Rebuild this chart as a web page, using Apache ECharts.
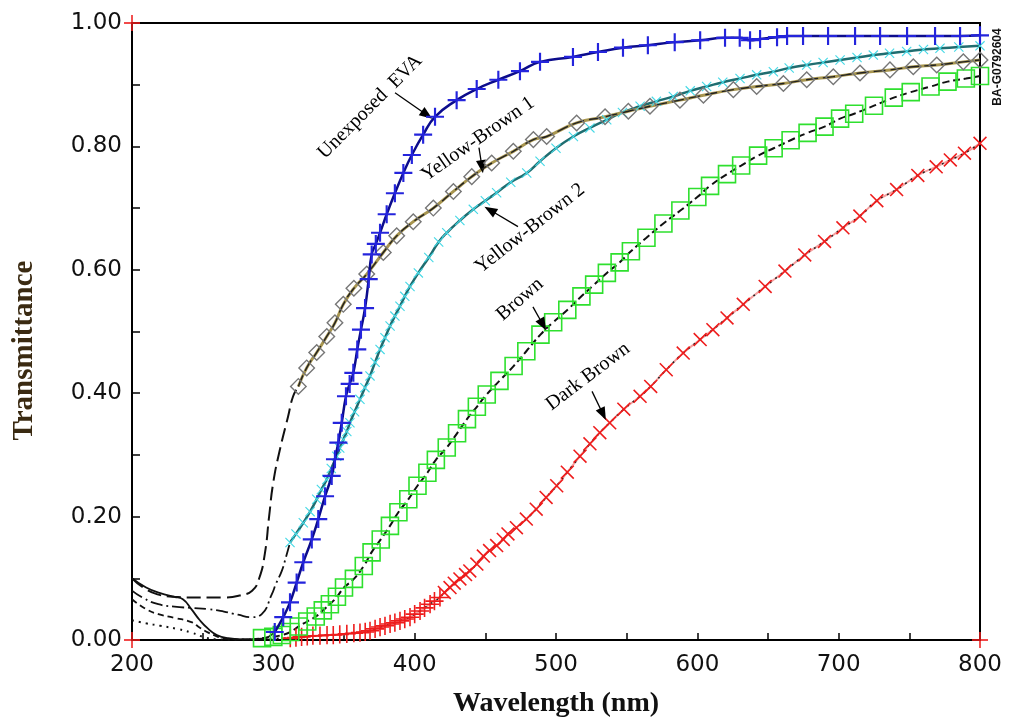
<!DOCTYPE html>
<html>
<head>
<meta charset="utf-8">
<script src="https://cdn.jsdelivr.net/npm/echarts@6.0.0/dist/echarts.min.js"></script>
<style>
  html, body { margin: 0; padding: 0; background: #fff; }
  #chart { width: 1009px; height: 723px; }
</style>
</head>
<body>
<div id="chart"></div>
<script>
// [wavelength nm, transmittance]

// Unexposed EVA
const evaTail = [[200,0.10],[210,0.085],[220,0.076],[230,0.07],[236,0.066],[242,0.05],[248,0.032],[254,0.018],[260,0.008],[268,0.003],[280,0.001],[292,0.002],[301,0.013]]
const evaPoints = [[301,0.013],[307,0.037],[311.8,0.061],[316.5,0.093],[321.2,0.126],[327.2,0.163],[331.8,0.196],[336.6,0.233],[341.3,0.266],[343.6,0.293],[346,0.32],[348.4,0.352],[351.4,0.395],[354,0.415],[356.6,0.433],[359.4,0.471],[362,0.503],[364.9,0.538],[367.5,0.585],[369.6,0.625],[372.5,0.642],[375.5,0.66],[380.2,0.69],[386,0.724],[392,0.757],[398,0.786],[406,0.819],[414.4,0.848],[429.7,0.875],[443.9,0.893],[459.2,0.908],[474.5,0.922],[488.7,0.937],[512,0.945],[529.7,0.953],[547.4,0.96],[565,0.964],[584,0.969],[602,0.972],[619.6,0.976],[630,0.976],[637.3,0.972],[644.4,0.974],[656.4,0.977],[663.5,0.979],[674.8,0.979],[692.5,0.979],[711.6,0.979],[729.3,0.979],[748.4,0.979],[768.2,0.979],[785.9,0.979],[800,0.98]]

// Yellow-Brown 1
const yb1Tail = [[200,0.10],[208,0.085],[218,0.074],[230,0.07],[242,0.069],[254,0.069],[266,0.069],[276,0.072],[285,0.08],[290,0.1],[294,0.14],[297,0.2],[300,0.256],[304.7,0.309],[310.4,0.362],[314,0.395],[317.7,0.411]]
const yb1Points = [[317.7,0.411],[323.6,0.441],[330.7,0.466],[337.8,0.492],[343.6,0.514],[349.5,0.544],[357,0.57],[366.1,0.593],[377.8,0.628],[387.3,0.655],[399,0.678],[413.2,0.70],[427.4,0.727],[440.4,0.751],[454.5,0.773],[469.8,0.792],[484,0.811],[493.4,0.816],[514.6,0.838],[534.7,0.848],[551.2,0.857],[566.5,0.865],[587.7,0.875],[604.3,0.883],[625.5,0.892],[642,0.897],[660.9,0.902],[677.4,0.908],[696.2,0.913],[715.1,0.919],[736.3,0.924],[752.8,0.929],[769.4,0.932],[788.2,0.937],[800,0.94]]

// Yellow-Brown 2
const yb2Tail = [[200,0.08],[208,0.068],[218.6,0.058],[230,0.054],[242,0.052],[254,0.05],[265,0.046],[275,0.041],[284.7,0.037],[291.8,0.042],[298.9,0.074],[302,0.092],[306,0.112],[309,0.135],[311.8,0.158]]
const yb2Points = [[311.8,0.158],[316,0.172],[321.2,0.19],[326,0.208],[330.7,0.228],[334,0.244],[337.8,0.26],[341,0.278],[344.8,0.298],[347,0.311],[349.5,0.325],[352,0.338],[354.2,0.352],[357.5,0.37],[361.3,0.39],[364.8,0.409],[368.4,0.428],[372,0.45],[375.5,0.471],[379,0.49],[382.6,0.509],[386,0.525],[389.6,0.541],[393,0.557],[396.7,0.573],[402.6,0.595],[410,0.62],[417,0.645],[422.7,0.66],[432,0.68],[441.5,0.698],[450,0.712],[458,0.725],[468,0.742],[479.3,0.757],[488.7,0.776],[500,0.797],[512.3,0.816],[524,0.83],[535.9,0.843],[547,0.855],[559.5,0.865],[571,0.873],[583,0.881],[595,0.89],[606.6,0.897],[618,0.904],[630.2,0.91],[642,0.916],[653.8,0.921],[665,0.927],[677.4,0.932],[689,0.936],[701,0.94],[713,0.944],[724.5,0.948],[736,0.951],[748.1,0.954],[760,0.957],[771.7,0.959],[785,0.961],[800,0.963]]

// Brown
const brownTail = [[200,0.066],[210,0.05],[218.6,0.042],[230,0.036],[242,0.029],[248,0.02],[254,0.012],[260,0.006],[266,0.002],[280,0.001],[292,0.003]]
const brownPoints = [[292,0.003],[300,0.005],[306,0.008],[312,0.013],[318,0.022],[324,0.03],[330,0.038],[335,0.048],[340,0.058],[345,0.07],[350,0.085],[357,0.099],[364,0.12],[369.5,0.142],[376,0.163],[382.5,0.185],[388.5,0.207],[395.5,0.228],[402,0.25],[409,0.271],[415,0.292],[422.7,0.312],[430,0.335],[437,0.358],[444,0.378],[451,0.398],[460,0.42],[470,0.444],[479,0.468],[489,0.495],[498,0.515],[508,0.535],[518,0.557],[527,0.576],[536,0.595],[545,0.612],[553,0.63],[564,0.652],[576,0.675],[588,0.696],[600,0.718],[609,0.736],[621,0.755],[631,0.769],[643,0.785],[654,0.797],[666,0.81],[678,0.822],[690,0.832],[701,0.845],[711,0.853],[725,0.866],[739,0.879],[751,0.888],[765,0.897],[777,0.905],[790,0.91],[800,0.914]]

// Dark Brown
const darkTail = [[200,0.032],[210,0.027],[220,0.023],[232,0.018],[242,0.012],[252,0.004],[262,0.001],[280,0.001],[300,0.002],[312,0.003]]
const darkPoints = [[312,0.003],[316,0.004],[320,0.005],[324,0.006],[328,0.007],[333,0.007],[338,0.008],[342.4,0.008],[347,0.009],[352,0.01],[357,0.011],[361.3,0.012],[365,0.013],[368.4,0.015],[372,0.018],[375.5,0.021],[379,0.023],[382.6,0.026],[386,0.028],[389.6,0.031],[393,0.034],[396.7,0.037],[400,0.042],[403.8,0.047],[407,0.052],[410.9,0.058],[414,0.063],[417.9,0.069],[421,0.077],[425,0.085],[428,0.092],[432,0.099],[436,0.106],[439,0.112],[444,0.123],[448.6,0.136],[453,0.145],[458,0.153],[462.7,0.163],[466,0.172],[472,0.182],[479,0.196],[486,0.212],[493,0.231],[500.5,0.25],[508,0.272],[517,0.298],[524,0.318],[531,0.336],[538,0.352],[548,0.374],[559.5,0.395],[567,0.411],[578,0.438],[590,0.465],[602,0.487],[611,0.503],[621,0.522],[632.5,0.544],[648,0.573],[662,0.598],[676,0.624],[690,0.646],[703,0.668],[715,0.687],[727,0.712],[741,0.73],[756,0.753],[769,0.767],[779,0.778],[789,0.789],[800,0.805]]

// red corner crosses printed on the frame
const cornerMarks = [[200,1],[200,0],[800,0]]

// curve labels: text, anchor [wl, T], angle in degrees
const labels = [
  { text: 'Unexposed  EVA', at: [368.4, 0.864], angle: 45 },
  { text: 'Yellow-Brown 1', at: [444.8, 0.812], angle: 35 },
  { text: 'Yellow-Brown 2', at: [481.6, 0.667], angle: 38 },
  { text: 'Brown', at: [474.5, 0.552], angle: 41 },
  { text: 'Dark Brown', at: [522.6, 0.427], angle: 37 }
]
const arrows = [
  { from: [386.1, 0.887], to: [408.7, 0.851] },
  { from: [445.5, 0.798], to: [447.6, 0.767] },
  { from: [473.1, 0.670], to: [453.3, 0.697] },
  { from: [483.7, 0.540], to: [490.8, 0.511] },
  { from: [525.5, 0.403], to: [533.3, 0.366] }
]

const plusPath = 'path://M0,4.4H10V5.6H0Z M4.4,0H5.6V10H4.4Z'
const crossPath = 'path://M0,0.8L0.8,0L10,9.2L9.2,10Z M9.2,0L10,0.8L0.8,10L0,9.2Z'

const chart = echarts.init(document.getElementById('chart'))

const tailSeries = (data, type, width) => ({
  type: 'line', data, symbol: 'none', smooth: true, z: 2,
  lineStyle: { color: '#111', width: width || 1.8, type }
})

const option = {
  animation: false,
  backgroundColor: '#fff',
  grid: { left: 132, right: 29, top: 23, bottom: 82, show: true, borderColor: '#000', borderWidth: 2 },
  xAxis: {
    type: 'value', min: 200, max: 800, interval: 100,
    axisLine: { lineStyle: { color: '#000', width: 2 } },
    axisTick: { inside: true, length: 7, lineStyle: { color: '#000', width: 1.5 } },
    minorTick: { show: true, splitNumber: 2, length: 7, lineStyle: { color: '#000', width: 1.5 } },
    splitLine: { show: false },
    axisLabel: { color: '#111', fontSize: 23, fontFamily: 'DejaVu Sans', margin: 14 },
    name: 'Wavelength (nm)', nameLocation: 'middle', nameGap: 50,
    nameTextStyle: { fontFamily: 'Liberation Serif', fontWeight: 'bold', fontSize: 28, color: '#111' }
  },
  yAxis: {
    type: 'value', min: 0, max: 1, interval: 0.2,
    axisLine: { lineStyle: { color: '#000', width: 2 } },
    axisTick: { inside: true, length: 8, lineStyle: { color: '#000', width: 1.5 } },
    minorTick: { show: true, splitNumber: 2, length: 8, lineStyle: { color: '#000', width: 1.5 } },
    splitLine: { show: false },
    axisLabel: { color: '#111', fontSize: 23, fontFamily: 'DejaVu Sans', margin: 10, formatter: v => v.toFixed(2) },
    name: 'Transmittance', nameLocation: 'middle', nameGap: 93, nameRotate: 90,
    nameTextStyle: { fontFamily: 'Liberation Serif', fontWeight: 'bold', fontSize: 29, color: '#3a2a12', padding: [0, 38, 0, 0] }
  },
  series: [
    tailSeries(evaTail, 'solid', 1.8),
    tailSeries(yb1Tail, [14, 6], 2),
    tailSeries(yb2Tail, [12, 4, 2, 4], 1.8),
    tailSeries(brownTail, [6, 4], 1.8),
    tailSeries(darkTail, [2, 5], 2),
    // Dark Brown
    { type: 'line', data: darkPoints, smooth: true, z: 3, lineStyle: { color: '#f5a0a0', width: 2 }, symbol: 'none' },
    { type: 'line', data: darkPoints, smooth: true, z: 4, lineStyle: { color: '#222', width: 1.6, type: [2, 5] },
      symbol: crossPath, symbolSize: 14, showAllSymbol: true,
      symbolRotate: v => (v[0] < 420 ? 45 : 0),
      itemStyle: { color: '#ee1c1c' } },
    // Brown
    { type: 'line', data: brownPoints, smooth: true, z: 4, lineStyle: { color: '#111', width: 2, type: [7, 4] },
      symbol: 'rect', symbolSize: 17, showAllSymbol: true,
      itemStyle: { color: 'rgba(0,0,0,0)', borderColor: '#2ee02e', borderWidth: 1.6 } },
    // Yellow-Brown 2
    { type: 'line', data: yb2Points, smooth: true, z: 4, lineStyle: { color: '#1f6d70', width: 2.5 },
      symbol: crossPath, symbolSize: 10, showAllSymbol: true,
      itemStyle: { color: '#45d9e6' } },
    // Yellow-Brown 1
    { type: 'line', data: yb1Points, smooth: true, z: 4, lineStyle: { color: '#a89650', width: 3 }, symbol: 'none' },
    { type: 'line', data: yb1Points, smooth: true, z: 5, lineStyle: { color: '#222', width: 1.4, type: [12, 5] },
      symbol: 'rect', symbolRotate: 45, symbolSize: 11, showAllSymbol: true,
      itemStyle: { color: 'rgba(0,0,0,0)', borderColor: '#777', borderWidth: 1.4 } },
    // Unexposed EVA
    { type: 'line', data: evaPoints, smooth: true, z: 6, lineStyle: { color: '#0c0c8c', width: 2.5 },
      symbol: plusPath, symbolSize: 18, showAllSymbol: true,
      itemStyle: { color: '#2424dc' } },
    // corner marks + arrows
    { type: 'scatter', data: cornerMarks, symbol: plusPath, symbolSize: 16, z: 7,
      itemStyle: { color: '#ee1c1c' },
      markLine: {
        silent: true, symbol: ['none', 'triangle'], symbolSize: [10, 13],
        label: { show: false },
        lineStyle: { color: '#000', width: 1.3, type: 'solid' },
        data: arrows.map(a => [{ coord: a.from }, { coord: a.to }])
      } }
  ]
}

chart.setOption(option)

const graphics = labels.map(l => {
  const p = chart.convertToPixel({ gridIndex: 0 }, l.at)
  return {
    type: 'text', x: p[0], y: p[1], rotation: l.angle * Math.PI / 180, z: 100,
    style: { text: l.text, fill: '#000', font: '20px "Liberation Serif"', align: 'center', verticalAlign: 'middle' }
  }
})
graphics.push({
  type: 'text', x: 998, y: 67, rotation: Math.PI / 2, z: 100,
  style: { text: 'BA-G0792604', fill: '#111', font: 'bold 12px "Liberation Sans"', align: 'center', verticalAlign: 'middle' }
})
chart.setOption({ graphic: graphics })
</script>
</body>
</html>
